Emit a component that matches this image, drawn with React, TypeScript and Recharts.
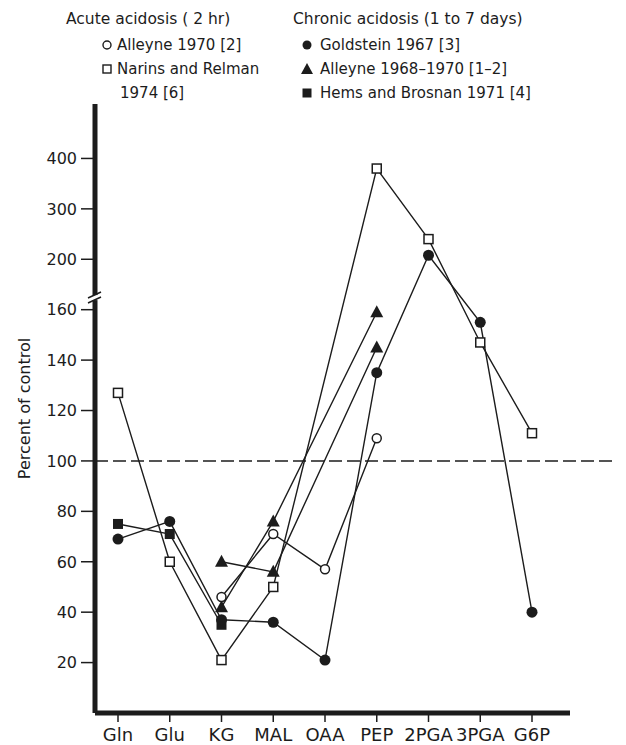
import React from 'react';
import { LineChart, Line, XAxis, YAxis, ReferenceLine, Label } from 'recharts';

if (typeof document !== 'undefined') document.body.style.margin = '0';

const INK = '#1c1c1c';
const FONT = '"DejaVu Sans", Verdana, sans-serif';

// metabolites along the x axis
const METABOLITES = ['Gln', 'Glu', 'KG', 'MAL', 'OAA', 'PEP', '2PGA', '3PGA', 'G6P'];

const ALLEYNE_1970 = [null, null, 46, 71, 57, 109, null, null, null];
const NARINS_1974 = [127, 60, 21, 50, null, 380, 240, 147, 111];
const GOLDSTEIN_1967 = [69, 76, 37, 36, 21, 135, 208, 155, 40];
const ALLEYNE_1968_A = [null, null, 42, 76, null, 159, null, null, null];
const ALLEYNE_1968_B = [null, null, 60, 56, null, 145, null, null, null];
const HEMS_1971 = [75, 71, 35, null, null, null, null, null, null];

const Y_TICKS = [20, 40, 60, 80, 100, 120, 140, 160, 200, 300, 400];
const Y_BREAK = 170;

// broken axis: linear to 160, squeezed 160-200, then 200-400 compressed
const squash = (v: number | null) => {
  if (v == null) return null;
  if (v <= 160) return v;
  if (v <= 200) return 160 + (v - 160) * 0.5;
  return 180 + (v - 200) * 0.2;
};

const data = METABOLITES.map((name, i) => ({
  name,
  alleyne1970: squash(ALLEYNE_1970[i]),
  narins: squash(NARINS_1974[i]),
  goldstein: squash(GOLDSTEIN_1967[i]),
  alleyneA: squash(ALLEYNE_1968_A[i]),
  alleyneB: squash(ALLEYNE_1968_B[i]),
  hems: squash(HEMS_1971[i]),
}));

const AXIS_X = 95;

function YTick(props: any) {
  const { y, payload } = props;
  if (payload.value === squash(Y_BREAK)) {
    return (
      <g>
        <rect x={AXIS_X - 4} y={y - 2} width={8} height={5} fill="#fff" />
        <line x1={AXIS_X - 7} y1={y + 1} x2={AXIS_X + 6} y2={y - 5} stroke={INK} strokeWidth={1.6} />
        <line x1={AXIS_X - 7} y1={y + 6} x2={AXIS_X + 6} y2={y} stroke={INK} strokeWidth={1.6} />
      </g>
    );
  }
  const label = Y_TICKS.find((t) => squash(t) === payload.value);
  return (
    <g>
      <line x1={AXIS_X - 14} x2={AXIS_X} y1={y} y2={y} stroke={INK} strokeWidth={1.5} />
      <text x={AXIS_X - 18} y={y} dy="0.36em" textAnchor="end" fontSize={16} fontFamily={FONT} fill={INK}>
        {label}
      </text>
    </g>
  );
}

const empty = (p: any) => <g key={p.key ?? p.index} />;

const openCircle = (p: any) =>
  p.cx == null || p.value == null ? empty(p) : (
    <circle key={p.key ?? p.index} cx={p.cx} cy={p.cy} r={4.5} fill="#fff" stroke={INK} strokeWidth={1.5} />
  );
const openSquare = (p: any) =>
  p.cx == null || p.value == null ? empty(p) : (
    <rect key={p.key ?? p.index} x={p.cx - 4.5} y={p.cy - 4.5} width={9} height={9} fill="#fff" stroke={INK} strokeWidth={1.5} />
  );
const filledCircle = (p: any) =>
  p.cx == null || p.value == null ? empty(p) : (
    <circle key={p.key ?? p.index} cx={p.cx} cy={p.cy} r={5.5} fill={INK} />
  );
const filledTriangle = (p: any) =>
  p.cx == null || p.value == null ? empty(p) : (
    <polygon
      key={p.key ?? p.index}
      points={`${p.cx},${p.cy - 7} ${p.cx - 6.5},${p.cy + 5} ${p.cx + 6.5},${p.cy + 5}`}
      fill={INK}
    />
  );
const filledSquare = (p: any) =>
  p.cx == null || p.value == null ? empty(p) : (
    <rect key={p.key ?? p.index} x={p.cx - 5} y={p.cy - 5} width={10} height={10} fill={INK} />
  );

const lineProps = {
  type: 'linear' as const,
  stroke: INK,
  strokeWidth: 1.4,
  connectNulls: true,
  isAnimationActive: false,
  activeDot: false as const,
};

function Legend() {
  const t = { fontSize: 15, fontFamily: FONT, fill: INK, dominantBaseline: 'central' as const };
  return (
    <svg width={626} height={110} style={{ position: 'absolute', left: 0, top: 0, pointerEvents: 'none' }}>
      <text x={66} y={19} {...t} fontSize={15.5}>Acute acidosis ( 2 hr)</text>
      <text x={293} y={19} {...t} fontSize={15.5}>Chronic acidosis (1 to 7 days)</text>

      <circle cx={107} cy={45} r={4} fill="#fff" stroke={INK} strokeWidth={1.4} />
      <text x={117} y={45} {...t}>Alleyne 1970 [2]</text>
      <rect x={103} y={65} width={8} height={8} fill="#fff" stroke={INK} strokeWidth={1.4} />
      <text x={117} y={69} {...t}>Narins and Relman</text>
      <text x={120} y={93} {...t}>1974 [6]</text>

      <circle cx={307} cy={45} r={4.5} fill={INK} />
      <text x={320} y={45} {...t}>Goldstein 1967 [3]</text>
      <polygon points="307,63 301,74 313,74" fill={INK} />
      <text x={320} y={69} {...t}>Alleyne 1968–1970 [1–2]</text>
      <rect x={302.5} y={88.5} width={9} height={9} fill={INK} />
      <text x={320} y={93} {...t}>Hems and Brosnan 1971 [4]</text>
    </svg>
  );
}

export default function App() {
  const yTicks = [...Y_TICKS, Y_BREAK].map((v) => squash(v) as number).sort((a, b) => a - b);
  return (
    <div style={{ position: 'relative', width: 626, height: 745, background: '#fff' }}>
      <LineChart width={626} height={745} data={data} margin={{ top: 104, right: 56, bottom: 0, left: 0 }}>
        <XAxis
          dataKey="name"
          padding={{ left: 23, right: 38 }}
          axisLine={{ stroke: INK, strokeWidth: 5 }}
          tickLine={{ stroke: INK, strokeWidth: 1.5 }}
          tickSize={9}
          tickMargin={6}
          height={32}
          interval={0}
          tick={{ fontSize: 18, fontFamily: FONT, fill: INK }}
        />
        <YAxis
          type="number"
          domain={[0, 241.6]}
          ticks={yTicks}
          interval={0}
          width={AXIS_X}
          axisLine={{ stroke: INK, strokeWidth: 5 }}
          tickLine={false}
          tick={YTick}
        >
          <Label
            content={(p: any) => {
              const vb = p.viewBox || { y: 104, height: 609 };
              const cy = vb.y + vb.height / 2;
              return (
                <text
                  x={24}
                  y={cy}
                  transform={`rotate(-90, 24, ${cy})`}
                  textAnchor="middle"
                  dominantBaseline="central"
                  fontSize={16}
                  fontFamily={FONT}
                  fill={INK}
                >
                  Percent of control
                </text>
              );
            }}
          />
        </YAxis>
        <ReferenceLine
          y={100}
          ifOverflow="visible"
          shape={(p: any) => (
            <line
              x1={p.x1}
              y1={p.y1}
              x2={(p.x2 ?? 570) + 43}
              y2={p.y2}
              stroke={INK}
              strokeWidth={1.6}
              strokeDasharray="13 5"
            />
          )}
        />
        <Line dataKey="hems" {...lineProps} dot={filledSquare} />
        <Line dataKey="goldstein" {...lineProps} dot={filledCircle} />
        <Line dataKey="alleyneA" {...lineProps} dot={filledTriangle} />
        <Line dataKey="alleyneB" {...lineProps} dot={filledTriangle} />
        <Line dataKey="narins" {...lineProps} dot={openSquare} />
        <Line dataKey="alleyne1970" {...lineProps} dot={openCircle} />
      </LineChart>
      <Legend />
    </div>
  );
}
